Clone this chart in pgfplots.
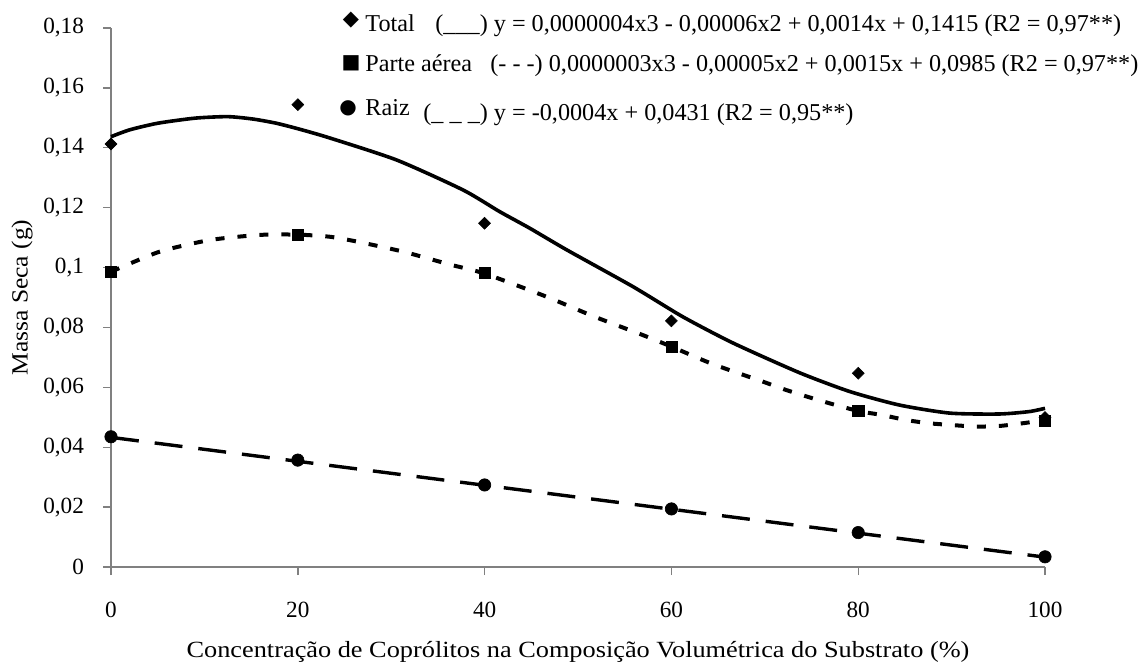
\documentclass[border=0pt]{standalone}
\usepackage{fontspec}
\setmainfont{Liberation Serif}
\newfontfamily\sym{DejaVu Sans}
\usepackage{pgfplots}
\pgfplotsset{compat=1.18}
\pgfplotstableread{
x y
0 0.1413
20 0.1544
40 0.1148
60 0.0822
80 0.0647
100 0.0499
}\totalpts
\pgfplotstableread{
x y
0 0.0986
20 0.1109
40 0.0983
60 0.0736
80 0.0521
100 0.0489
}\aereapts
\pgfplotstableread{
x y
0 0.0435
20 0.0357
40 0.0274
60 0.0194
80 0.0115
100 0.0034
}\raizpts
\begin{document}
\begin{tikzpicture}
\useasboundingbox (0,0) rectangle (571.5pt,-332.5pt);
\begin{axis}[
  at={(55.5pt,-283.5pt)}, anchor=south west,
  scale only axis, width=467pt, height=269.5pt,
  xmin=0, xmax=100, ymin=0, ymax=0.18,
  axis lines=left,
  axis line style={-, draw=gray, line width=0.7pt},
  tick align=outside, major tick length=4pt,
  tick style={draw=gray, line width=0.7pt},
  xtick={0,20,40,60,80,100},
  ytick={0,0.02,0.04,0.06,0.08,0.1,0.12,0.14,0.16,0.18},
  scaled y ticks=false,
  yticklabel style={/pgf/number format/use comma, /pgf/number format/fixed, /pgf/number format/precision=2, xshift=-6pt},
  /pgf/number format/assume math mode=true,
  ticklabel style={font=\fontsize{11.6}{13}\selectfont},
  xticklabel style={yshift=-10pt},
  xlabel={\scalebox{1.134}[1]{Concentração de Coprólitos na Composição Volumétrica do Substrato (\%)}},
  ylabel={\scalebox{1.1}[1]{Massa Seca (g)}},
  label style={font=\fontsize{11.6}{13}\selectfont},
  xlabel style={at={(axis description cs:0.5,-0.167)}, anchor=base},
  ylabel style={at={(axis description cs:-0.0953,0.5)}, anchor=center},
  clip=false,
]
% Total trend (solid)
\addplot[black, line width=1.8pt, smooth, tension=0.4] coordinates {
(0,0.1437) (2,0.1460) (5,0.1482) (9,0.1499) (12.5,0.1504) (15.2,0.1496) (17.7,0.1482)
(20.2,0.1462) (23.4,0.1433) (30.6,0.1359) (37.7,0.1259) (41.6,0.1187) (44.8,0.1132)
(48.8,0.1059) (55.9,0.0936) (61.2,0.0836) (66.6,0.0748) (73.7,0.0649) (79.1,0.0586)
(84.4,0.0541) (89.8,0.0514) (95.1,0.0511) (98.3,0.0519) (100,0.0530)
};
% Parte aerea trend (dotted)
\addplot[black, line width=2pt, dash pattern=on 4.5pt off 6.5pt, smooth, tension=0.4] coordinates {
(0,0.0986) (5.2,0.1053) (10.6,0.1092) (15.9,0.1109) (20,0.1110) (23.4,0.1103)
(26.3,0.1087) (31.3,0.1053) (36.3,0.1010) (40,0.0980) (46.6,0.0903) (51.6,0.0838)
(56.9,0.0775) (60,0.0736) (64.4,0.0678) (69.8,0.0619) (72.3,0.0591) (76,0.0555)
(80,0.0521) (82.5,0.0508) (85.1,0.0491) (87.6,0.0480) (90.1,0.0474) (92.6,0.0469)
(95.1,0.0471) (97.6,0.0480) (100,0.0491)
};
% Raiz trend (long dash)
\addplot[black, line width=1.7pt, dash pattern=on 14pt off 8pt] coordinates {
(0,0.0433) (100,0.0033)
};
\addplot[only marks, mark=square*, mark size=2.1pt, mark options={rotate=45, fill=black, draw=black, line width=0.3pt}] table {\totalpts};
\addplot[only marks, mark=square*, mark size=2.8pt, mark options={fill=black, draw=black, line width=0.3pt}] table {\aereapts};
\addplot[only marks, mark=*, mark size=3.1pt, mark options={fill=black, draw=black, line width=0.3pt}] table {\raizpts};
\end{axis}
% legend (text)
\begingroup
\fontsize{12.1}{14}\selectfont
\node[anchor=center, inner sep=0] at (175.5pt,-10pt) {\sym\fontsize{10.5}{10}\selectfont ◆};
\node[anchor=center, inner sep=0] at (175.5pt,-31.75pt) {\sym\fontsize{10}{10}\selectfont ■};
\node[anchor=center, inner sep=0] at (174pt,-54pt) {\sym\fontsize{10}{10}\selectfont ●};
\node[anchor=base west, inner sep=0] at (182.5pt,-15.75pt) {Total};
\node[anchor=base west, inner sep=0] at (217.5pt,-15.75pt) {(\_\_\_) y = 0,0000004x3 - 0,00006x2 + 0,0014x + 0,1415 (R2 = 0,97**)};
\node[anchor=base west, inner sep=0] at (182.5pt,-35.85pt) {Parte aérea};
\node[anchor=base west, inner sep=0] at (245pt,-35.85pt) {(- - -) 0,0000003x3 - 0,00005x2 + 0,0015x + 0,0985 (R2 = 0,97**)};
\node[anchor=base west, inner sep=0] at (182.5pt,-57.5pt) {Raiz};
\node[anchor=base west, inner sep=0] at (211.5pt,-60pt) {(\_ \_ \_) y = -0,0004x + 0,0431 (R2 = 0,95**)};
\endgroup
\end{tikzpicture}
\end{document}
